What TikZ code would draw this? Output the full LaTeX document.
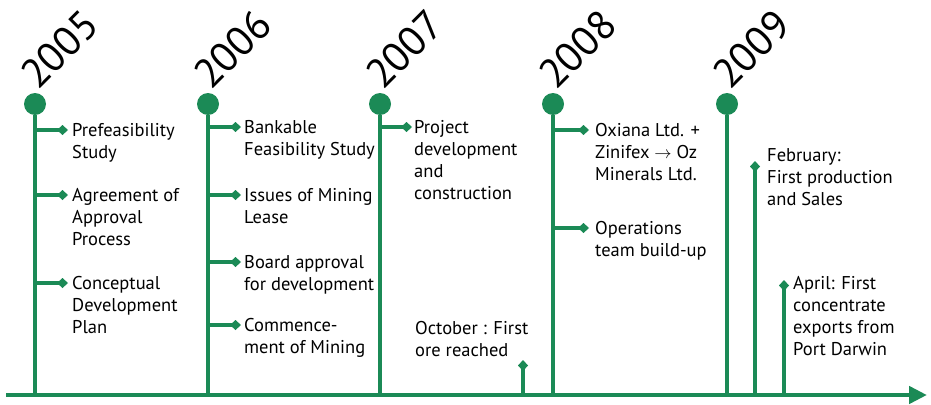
\documentclass[tikz,border=0pt]{standalone}
\usepackage{fontspec}
\setmainfont{PT Sans}
\usetikzlibrary{arrows.meta,positioning}
\definecolor{mine}{HTML}{1B8A56}
\tikzset{
  axis/.style={draw=mine,line width=4.5pt,-{Triangle[length=18pt,width=17pt]}},
  stem/.style={draw=mine,line width=4pt},
  yeardot/.style={circle,fill=mine,inner sep=0pt,minimum size=22pt},
  yearlab/.style={font=\fontsize{41}{41}\selectfont,rotate=45,anchor=base west,inner sep=0pt},
  twig/.style={draw=mine,line width=3.5pt,-{Diamond[length=11pt,width=10pt]}},
  note/.style={font=\fontsize{18.5}{22}\selectfont,align=left,anchor=north west,inner sep=0pt},
}
\begin{document}
\begin{tikzpicture}[x=1pt,y=-1pt]
  \useasboundingbox (0,0) rectangle (931,404);
  % time axis
  \coordinate (start) at (6,395);
  \coordinate (stop) at (927,395);
  \draw[axis] (start) -- (stop);

  % years: dot, stem down to the axis, slanted label
  \foreach \n/\x in {2005/35,2006/208,2007/380,2008/553,2009/727}{
    \node[yeardot] (d\n) at (\x,104) {};
    \coordinate (b\n) at (\x,395);
    \draw[stem] (d\n) -- (b\n);
    \node[yearlab] (t\n) at (\x+3,91) {\n};
  }

  % 2005
  \foreach \y/\t [count=\i] in {130/{Prefeasibility\\Study},
      195/{Agreement of\\Approval\\Process},
      283/{Conceptual\\Development\\Plan}}{
    \coordinate (a\i) at (35,\y);
    \coordinate (e\i) at (68,\y);
    \draw[twig] (a\i) -- (e\i);
    \node[note] (na\i) at (72,\y-7) {\t};
  }

  % 2006
  \foreach \y/\t [count=\i] in {127/{Bankable\\Feasibility Study},
      195/{Issues of Mining\\Lease},
      262/{Board approval\\for development},
      325/{Commence-\\ment of Mining}}{
    \coordinate (a\i) at (208,\y);
    \coordinate (e\i) at (241,\y);
    \draw[twig] (a\i) -- (e\i);
    \node[note] (nb\i) at (244,\y-7) {\t};
  }

  % 2007
  \coordinate (a1) at (380,127);
  \coordinate (e1) at (412,127);
  \draw[twig] (a1) -- (e1);
  \node[note] (nc1) at (414,120) {Project\\development\\and\\construction};
  \coordinate (oct) at (523,395);
  \coordinate (octtop) at (523,360);
  \draw[twig] (oct) -- (octtop);
  \node[note] (nc2) at (415,321) {October : First\\ore reached};

  % 2008
  \foreach \y/\t [count=\i] in {130/{Oxiana Ltd. +\\Zinifex $\rightarrow$ Oz\\Minerals Ltd.},
      228/{Operations\\team build-up}}{
    \coordinate (a\i) at (553,\y);
    \coordinate (e\i) at (589,\y);
    \draw[twig] (a\i) -- (e\i);
    \node[note] (nd\i) at (595,\y-7) {\t};
  }

  % 2009
  \coordinate (feb) at (755,395);
  \coordinate (febtop) at (755,161);
  \draw[twig] (feb) -- (febtop);
  \node[note] (ne1) at (767,148) {February:\\First production\\and Sales};
  \coordinate (apr) at (784,395);
  \coordinate (aprtop) at (784,280);
  \draw[twig] (apr) -- (aprtop);
  \node[note] (ne2) at (793,276) {April: First\\concentrate\\exports from\\Port Darwin};
\end{tikzpicture}
\end{document}
